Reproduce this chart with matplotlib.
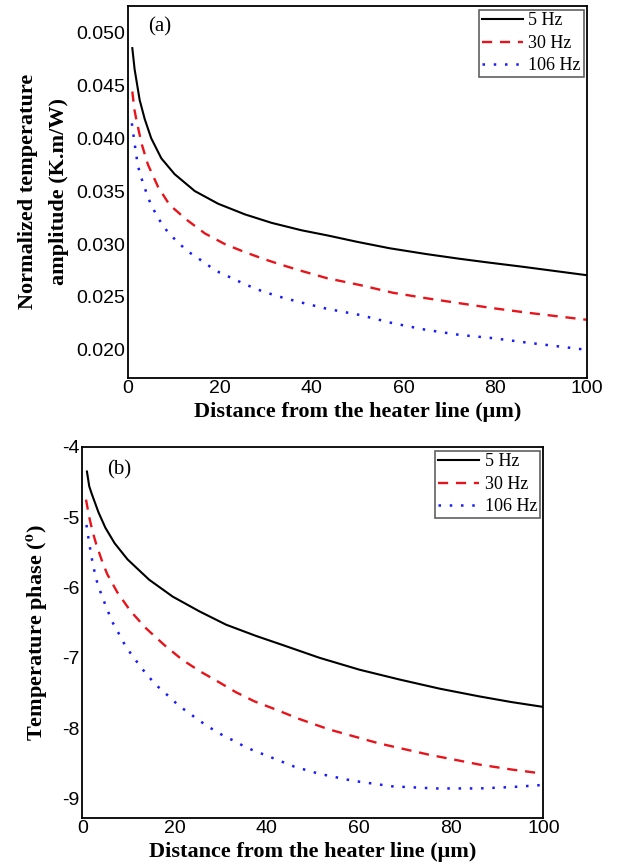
import matplotlib
matplotlib.use('Agg')
import matplotlib.pyplot as plt
from matplotlib.ticker import FormatStrFormatter

# Data
# ------------------------------------------------------------------------------------------
labels = ['5 Hz', '30 Hz', '106 Hz']

# (a) normalized temperature amplitude (K.m/W) vs distance (um)
x_a5 = [1.0, 1.5, 2.6, 3.7, 5.1, 7.3, 10.2, 14.6, 19.7, 25.5, 31.3, 37.8, 43.6, 50.0,
        57.0, 65.0, 72.0, 78.0, 86.0, 93.0, 100.0]
amp_5 = [0.0485, 0.0465, 0.0436, 0.0418, 0.0400, 0.0381, 0.0366, 0.0350, 0.0338, 0.0328,
         0.0320, 0.0313, 0.0308, 0.0302, 0.0296, 0.02905, 0.02862, 0.02828, 0.02785,
         0.02745, 0.02705]

x_a30 = [1.0, 1.45, 1.9, 3.0, 4.4, 6.6, 9.1, 12.8, 16.8, 21.1, 25.1, 29.5, 33.0, 37.1,
         43.4, 50.4, 57.7, 65.0, 72.2, 79.5, 86.7, 94.0, 100.0]
amp_30 = [0.0444, 0.0427, 0.0417, 0.0395, 0.0375, 0.0354, 0.0337, 0.0323, 0.0310, 0.0300,
          0.0293, 0.0286, 0.0281, 0.02755, 0.02677, 0.02614, 0.02540, 0.02488, 0.02441,
          0.02394, 0.02353, 0.02315, 0.02284]

x_a106 = [0.9, 1.4, 2.2, 3.0, 3.7, 4.6, 5.7, 7.0, 8.6, 10.8, 13.1, 15.5, 17.8, 20.0, 22.6,
          25.5, 29.5, 34.0, 38.5, 43.2, 50.4, 57.7, 65.0, 72.2, 79.5, 86.7, 94.0, 100.0]
amp_106 = [0.0414, 0.0398, 0.0374, 0.0362, 0.0353, 0.0342, 0.0332, 0.0322, 0.0312, 0.0302,
           0.0293, 0.0286, 0.0279, 0.0273, 0.0268, 0.0262, 0.0255, 0.0249, 0.0244, 0.0239,
           0.02331, 0.02252, 0.02189, 0.02142, 0.02111, 0.02070, 0.02032, 0.02000]

# (b) temperature phase (deg) vs distance (um)
x_b5 = [1.0, 1.5, 2.0, 3.5, 5.0, 7.0, 9.8, 14.5, 19.6, 25.4, 31.2, 37.7, 43.5, 51.4, 60.1,
        68.8, 77.5, 86.1, 93.0, 100.0]
ph_5 = [-4.35, -4.56, -4.66, -4.93, -5.15, -5.37, -5.60, -5.89, -6.13, -6.34, -6.53, -6.69,
        -6.82, -7.00, -7.17, -7.31, -7.44, -7.55, -7.63, -7.70]

x_b30 = [0.8, 1.5, 2.2, 3.0, 4.2, 5.4, 7.6, 10.5, 13.8, 17.8, 21.7, 25.7, 29.7, 33.3, 37.3,
         41.7, 47.0, 53.5, 64.4, 75.2, 86.1, 93.0, 100.0]
ph_30 = [-4.75, -5.00, -5.20, -5.38, -5.61, -5.81, -6.07, -6.34, -6.58, -6.82, -7.03, -7.20,
         -7.35, -7.49, -7.62, -7.73, -7.87, -8.02, -8.22, -8.38, -8.52, -8.59, -8.65]

x_b106 = [0.9, 1.45, 2.0, 2.5, 3.0, 3.8, 4.6, 5.5, 6.5, 7.7, 9.0, 10.5, 12.2, 14.1, 16.2,
          18.6, 20.9, 23.2, 25.5, 27.8, 30.1, 32.5, 34.8, 37.1, 39.5, 41.8, 46.0, 51.3,
          58.6, 67.2, 76.6, 86.1, 93.3, 100.0]
ph_106 = [-5.11, -5.35, -5.57, -5.73, -5.88, -6.04, -6.18, -6.33, -6.49, -6.63, -6.79, -6.94,
          -7.09, -7.25, -7.40, -7.54, -7.68, -7.79, -7.90, -8.00, -8.09, -8.17, -8.25, -8.32,
          -8.38, -8.44, -8.55, -8.65, -8.75, -8.83, -8.86, -8.86, -8.84, -8.81]

# Style
# ------------------------------------------------------------------------------------------
plt.rcParams['mathtext.fontset'] = 'stix'
plt.rcParams['axes.unicode_minus'] = False
serif = 'Liberation Serif'
sans = 'Liberation Sans'
styles = [dict(color='black', lw=1.5, ls='-'),
          dict(color='#e8141c', lw=1.7, ls=(0, (4.3, 3.3))),
          dict(color='#1a1aff', lw=1.8, ls=(0, (1, 3.5)))]


def style_axes(ax, xlabel, ylabel, panel, panel_xy, ypad):
    for s in ax.spines.values():
        s.set_linewidth(1.3)
    ax.tick_params(length=0, labelsize=14, pad=2)
    for t in ax.get_xticklabels() + ax.get_yticklabels():
        t.set_fontfamily(sans)
    ax.set_xlabel(xlabel, fontsize=16, fontweight='bold', family=serif, labelpad=3)
    ax.set_ylabel(ylabel, fontsize=16, fontweight='bold', family=serif, labelpad=ypad,
                  linespacing=1.7)
    ax.text(panel_xy[0], panel_xy[1], panel, transform=ax.transAxes, fontsize=15,
            family=serif, va='center')
    leg = ax.legend(loc='upper right', prop={'family': serif, 'size': 13},
                    fancybox=False, edgecolor='#606060', framealpha=1,
                    handlelength=2.3, handletextpad=0.3, borderpad=0.15,
                    labelspacing=0.31, borderaxespad=0.2)
    leg.get_frame().set_linewidth(1.2)


fig = plt.figure(figsize=(6.27, 8.67), dpi=100)

# (a)
ax1 = fig.add_axes([0.2037, 0.5644, 0.733, 0.4287])
for x, y, lab, st in zip([x_a5, x_a30, x_a106], [amp_5, amp_30, amp_106], labels, styles):
    ax1.plot(x, y, label=lab, **st)
ax1.set_xlim(0, 100)
ax1.set_ylim(0.01738, 0.05248)
ax1.set_xticks([0, 20, 40, 60, 80, 100])
ax1.set_yticks([0.020, 0.025, 0.030, 0.035, 0.040, 0.045, 0.050])
ax1.yaxis.set_major_formatter(FormatStrFormatter('%.3f'))
style_axes(ax1, 'Distance from the heater line (\u03bcm)',
           'Normalized temperature\namplitude (K.m/W)', '(a)', (0.045, 0.945), 5)

# (b)
ax2 = fig.add_axes([0.1313, 0.0569, 0.7353, 0.4276])
for x, y, lab, st in zip([x_b5, x_b30, x_b106], [ph_5, ph_30, ph_106], labels, styles):
    ax2.plot(x, y, label=lab, **st)
ax2.set_xlim(0, 100)
ax2.set_ylim(-9.276, -4)
ax2.set_xticks([0, 20, 40, 60, 80, 100])
ax2.set_yticks([-9, -8, -7, -6, -5, -4])
style_axes(ax2, 'Distance from the heater line (\u03bcm)',
           r'Temperature phase ($^{\mathbf{o}}$)', '(b)', (0.054, 0.939), 9)

plt.savefig('out.png', dpi=100)
plt.close(fig)
